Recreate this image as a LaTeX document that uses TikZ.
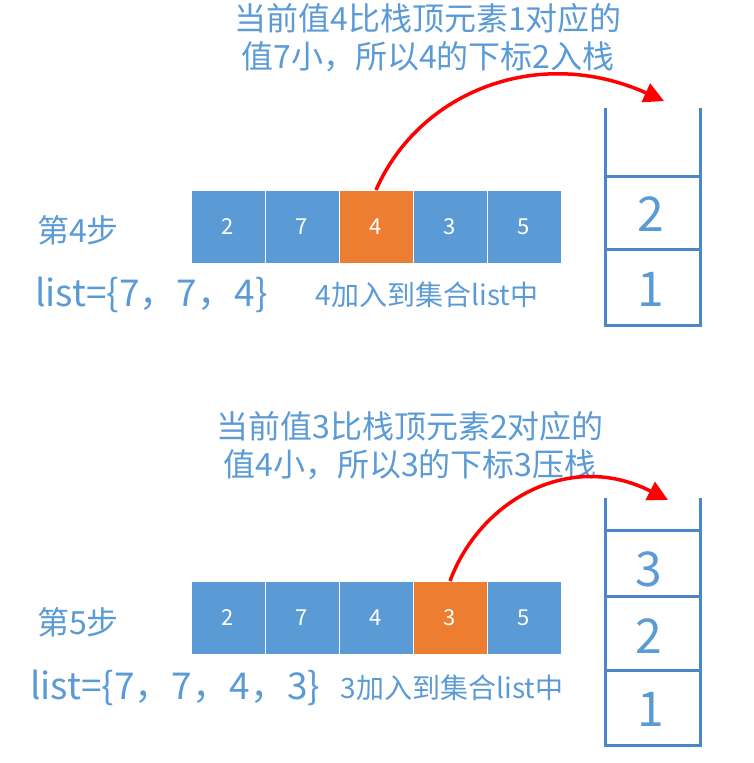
\documentclass[tikz,border=0pt]{standalone}
\usepackage{fontspec}
\setmainfont{Noto Sans CJK SC}
\usetikzlibrary{arrows.meta}
\definecolor{cb}{HTML}{5B9BD5}
\definecolor{co}{HTML}{ED7D31}
\definecolor{tx}{HTML}{5B9BD5}
\definecolor{sl}{HTML}{4A86C8}
\begin{document}
\begin{tikzpicture}[x=1pt,y=-1pt,
  cell/.style={draw=white,line width=1pt,fill=cb,minimum width=74pt,minimum height=73pt,inner sep=0pt,text=white,font=\fontsize{22}{24}\selectfont},
  hot/.style={cell,fill=co},
  lbl/.style={text=tx,inner sep=0pt},
  stk/.style={draw=sl,line width=3pt},
  big/.style={lbl,font=\fontsize{48}{50}\selectfont},
  redarr/.style={draw=red,line width=3.5pt,-{Triangle[length=20pt,width=20pt]}}]
\useasboundingbox (0,0) rectangle (754,763);
% step 4
\foreach \v/\s [count=\i] in {2/cell,7/cell,4/hot,3/cell,5/cell}
  \node[\s] (a\i) at (191+74*\i-37,227) {\v};
\node[lbl,font=\fontsize{32}{34}\selectfont] (s4) at (78,230) {第4步};
\node[lbl,anchor=west,font=\fontsize{37}{40}\selectfont] (l4) at (35,295) {list=\{7，7，4\}};
\node[lbl,font=\fontsize{28}{30}\selectfont] (n4) at (427,295) {4加入到集合list中};
\node[lbl,align=center,font=\fontsize{32}{38}\selectfont] (t4) at (428,38) {当前值4比栈顶元素1对应的\\值7小，所以4的下标2入栈};
\coordinate (e4) at (664,101);
\draw[redarr] (a3.north) .. controls (420,90) and (540,45) .. (e4);
\draw[stk] (605,108) -- (605,325) -- (700,325) -- (700,108);
\draw[stk] (605,176) -- (700,176);
\draw[stk] (605,249) -- (700,249);
\node[big] (b42) at (651,214) {2};
\node[big] (b41) at (651,289) {1};
% step 5
\foreach \v/\s [count=\i] in {2/cell,7/cell,4/cell,3/hot,5/cell}
  \node[\s] (c\i) at (191+74*\i-37,618) {\v};
\node[lbl,font=\fontsize{32}{34}\selectfont] (s5) at (78,622) {第5步};
\node[lbl,anchor=west,font=\fontsize{37}{40}\selectfont] (l5) at (30,688) {list=\{7，7，4，3\}};
\node[lbl,font=\fontsize{28}{30}\selectfont] (n5) at (452,688) {3加入到集合list中};
\node[lbl,align=center,font=\fontsize{32}{38}\selectfont] (t5) at (410,446) {当前值3比栈顶元素2对应的\\值4小，所以3的下标3压栈};
\coordinate (e5) at (668,500);
\draw[redarr] (c4.north) .. controls (480,500) and (570,450) .. (e5);
\draw[stk] (605,498) -- (605,745) -- (700,745) -- (700,498);
\draw[stk] (605,530) -- (700,530);
\draw[stk] (605,596) -- (700,596);
\draw[stk] (605,670) -- (700,670);
\node[big] (b53) at (649,569) {3};
\node[big] (b52) at (649,636) {2};
\node[big] (b51) at (651,709) {1};
\end{tikzpicture}
\end{document}
